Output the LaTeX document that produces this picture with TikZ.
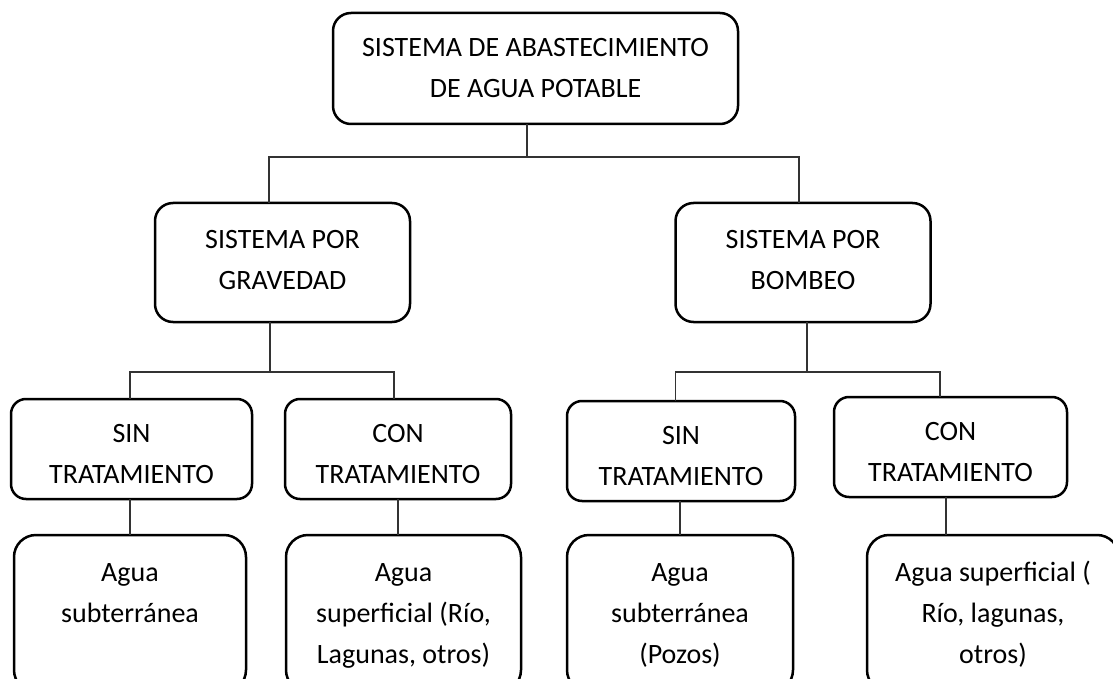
\documentclass[tikz,border=0pt]{standalone}
\usepackage{fontspec}
\setmainfont{Carlito}
\usepackage{tikz}
\tikzset {
	frame/.style={rectangle, draw, line width=2.5pt, inner sep=0pt, outer sep=0pt},
	root/.style={frame, rounded corners=18pt, align=center, minimum width=405pt, minimum height=111pt},
	branch/.style={frame, rounded corners=18pt, align=center, minimum width=255pt, minimum height=119pt},
	kind/.style={frame, rounded corners=15pt, align=center, minimum height=100pt},
	source/.style={frame, rounded corners=22pt, anchor=north},
	link/.style={draw=black!80, line width=1.3pt}
}
\newcommand{\sourcetext}[2]{\parbox[c][157pt][t]{#1}{\centering\rule{0pt}{46pt}#2}}

\begin{document}
\begin{tikzpicture}[x=1pt, y=-1pt, font=\fontsize{28}{41}\selectfont]
	\useasboundingbox (0,0) rectangle (1113,679);
	% level 0 and 1
	\node [root] (top) at (535.5,68.5) {SISTEMA DE ABASTECIMIENTO\\DE AGUA POTABLE};
	\node [branch] (gravedad) at (282.5,262.5) {SISTEMA POR\\GRAVEDAD\rule[-6pt]{0pt}{0pt}};
	\node [branch] (bombeo) at (803,262.5) {SISTEMA POR\\BOMBEO\rule[-6pt]{0pt}{0pt}};
	% level 2
	\node [kind, minimum width=241pt] (sinG) at (131.5,449) {\rule{0pt}{28pt}SIN\\TRATAMIENTO};
	\node [kind, minimum width=226pt] (conG) at (398,449) {\rule{0pt}{28pt}CON\\TRATAMIENTO};
	\node [kind, minimum width=228pt] (sinB) at (681,451) {\rule{0pt}{28pt}SIN\\TRATAMIENTO};
	\node [kind, minimum width=233pt] (conB) at (950.5,447) {\rule{0pt}{28pt}CON\\TRATAMIENTO};
	% level 3
	\node [source] (aguaG1) at (130,535) {\sourcetext{232pt}{Agua\\subterránea}};
	\node [source] (aguaG2) at (403.5,535) {\sourcetext{235pt}{Agua\\superficial (Río,\\Lagunas, otros)}};
	\node [source] (aguaB1) at (680,535) {\sourcetext{226pt}{Agua\\subterránea\\(Pozos)}};
	\node [source] (aguaB2) at (993,535) {\sourcetext{252pt}{Agua superficial (\\Río, lagunas,\\otros)}};
	% connectors
	\coordinate (bus1) at (527,157);
	\coordinate (bus2) at (270,372);
	\coordinate (bus3) at (807,372);
	\draw [link] (top.south -| bus1) -- (bus1);
	\draw [link] ([xshift=-13.5pt]gravedad.north) |- (bus1) -| ([xshift=-4pt]bombeo.north);
	\draw [link] (gravedad.south -| bus2) -- (bus2);
	\draw [link] ([xshift=-1.5pt]sinG.north) |- (bus2) -| ([xshift=-4pt]conG.north);
	\draw [link] (bombeo.south -| bus3) -- (bus3);
	\draw [link] ([xshift=-5.5pt]sinB.north) |- (bus3) -| ([xshift=-10.5pt]conB.north);
	\draw [link] (aguaG1.north) -- (aguaG1.north |- sinG.south);
	\draw [link] (conG.south) -- (conG.south |- aguaG2.north);
	\draw [link] (aguaB1.north) -- (aguaB1.north |- sinB.south);
	\draw [link] ([xshift=-4.5pt]conB.south) -- ([xshift=-4.5pt]conB.south |- aguaB2.north);
\end{tikzpicture}
\end{document}
